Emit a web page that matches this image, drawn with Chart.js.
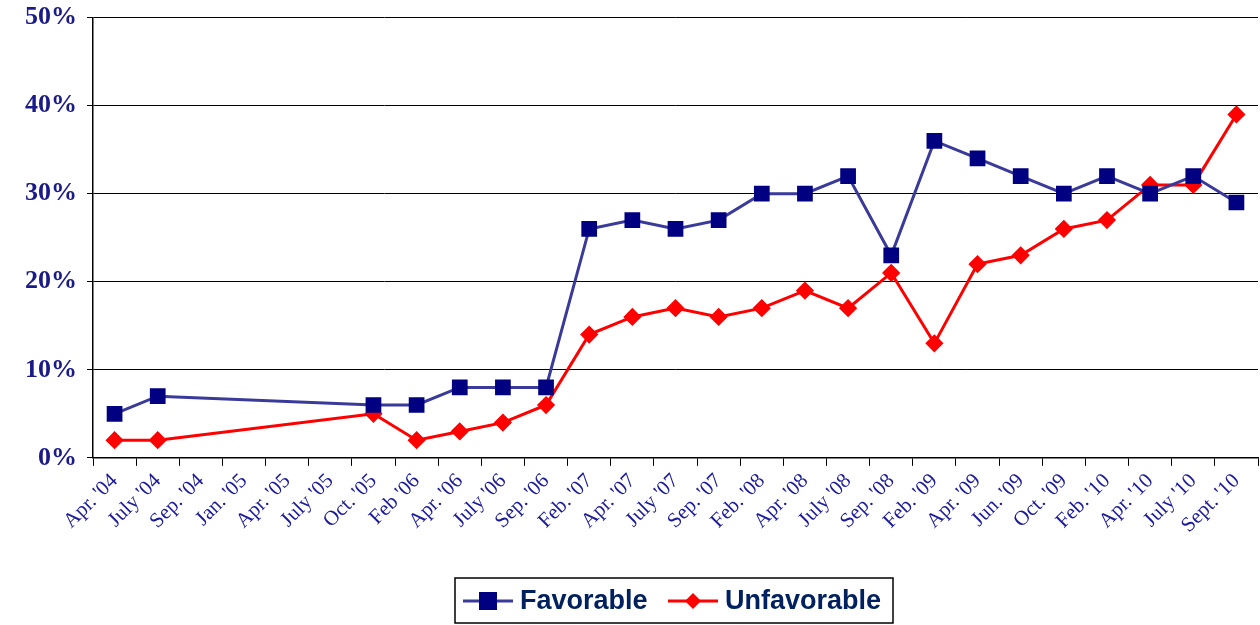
<!DOCTYPE html>
<html><head><meta charset="utf-8">
<script src="https://cdn.jsdelivr.net/npm/chart.js@4/dist/chart.umd.min.js"></script>
<style>html,body{margin:0;padding:0;background:#fff;overflow:hidden}#o{width:1260px;height:625px;overflow:hidden;position:relative}#w{width:1270px;height:633px;position:absolute;left:0;top:-8px}</style>
</head><body><div id="o"><div id="w"><canvas id="c"></canvas></div></div>
<script>
const categories=["Apr. '04","July '04","Sep. '04","Jan. '05","Apr. '05","July '05","Oct. '05","Feb '06","Apr. '06","July '06","Sep. '06","Feb. '07","Apr. '07","July '07","Sep. '07","Feb. '08","Apr. '08","July '08","Sep. '08","Feb. '09","Apr. '09","Jun. '09","Oct. '09","Feb. '10","Apr. '10","July '10","Sept. '10"];
const favorable=[5,7,null,null,null,null,6,6,8,8,8,26,27,26,27,30,30,32,23,36,34,32,30,32,30,32,29];
const unfavorable=[2,2,null,null,null,null,5,2,3,4,6,14,16,17,16,17,19,17,21,13,22,23,26,27,31,31,39];
const yTicks=[0,10,20,30,40,50];
const OY=8;
const legendBox={id:'lb',afterDraw(ch){const c=ch.ctx;c.save();
 c.strokeStyle='#000';c.lineWidth=1.5;c.strokeRect(455,578+OY,438,45);
 c.font='bold 27px "Liberation Sans"';c.textBaseline='middle';c.fillStyle='#002060';
 const y=601+OY;
 const items=[[463,'#3a3a9a','#000080','rect','Favorable'],[668,'#ff0000','#ff0000','rectRot','Unfavorable']];
 items.forEach(([x,lc,pc,ps,t])=>{c.strokeStyle=lc;c.lineWidth=3;c.beginPath();c.moveTo(x,y);c.lineTo(x+50,y);c.stroke();
  c.fillStyle=pc;if(ps==='rect'){c.fillRect(x+16,y-9,18,18);}else{c.beginPath();c.moveTo(x+25,y-8);c.lineTo(x+33,y);c.lineTo(x+25,y+8);c.lineTo(x+17,y);c.closePath();c.fill();}
  c.fillStyle='#002060';c.fillText(t,x+57,y+1);});
 c.restore();}};
new Chart(document.getElementById('c'),{type:'line',
data:{labels:categories,datasets:[
{label:'Favorable',data:favorable,borderColor:'#3a3a9a',backgroundColor:'#000080',pointStyle:'rect',pointRadius:9,pointBorderColor:'#000080',borderWidth:3,spanGaps:true,tension:0},
{label:'Unfavorable',data:unfavorable,borderColor:'#ff0000',backgroundColor:'#ff0000',pointStyle:'rectRot',pointRadius:7,borderWidth:3,spanGaps:true,tension:0}]},
options:{responsive:true,maintainAspectRatio:false,animation:false,
layout:{padding:{left:15,right:0,top:0,bottom:84}},
plugins:{legend:{display:false},tooltip:{enabled:false}},
scales:{x:{offset:true,grid:{offset:true,drawOnChartArea:false,color:'#000',tickLength:8},border:{color:'#000',width:1.5},
ticks:{color:'#1a1a9a',maxRotation:45,minRotation:45,autoSkip:false,font:{family:'Liberation Serif',size:21}}},
y:{min:0,max:50,afterBuildTicks(a){a.ticks=yTicks.map(v=>({value:v}));},grid:{color:'#000',lineWidth:1,tickLength:6},border:{color:'#000',width:1.5},
ticks:{color:'#1a1a8a',padding:10,callback:v=>v+'%',font:{family:'Liberation Serif',size:26,weight:'bold'}}}}},
plugins:[legendBox]});
</script></body></html>
